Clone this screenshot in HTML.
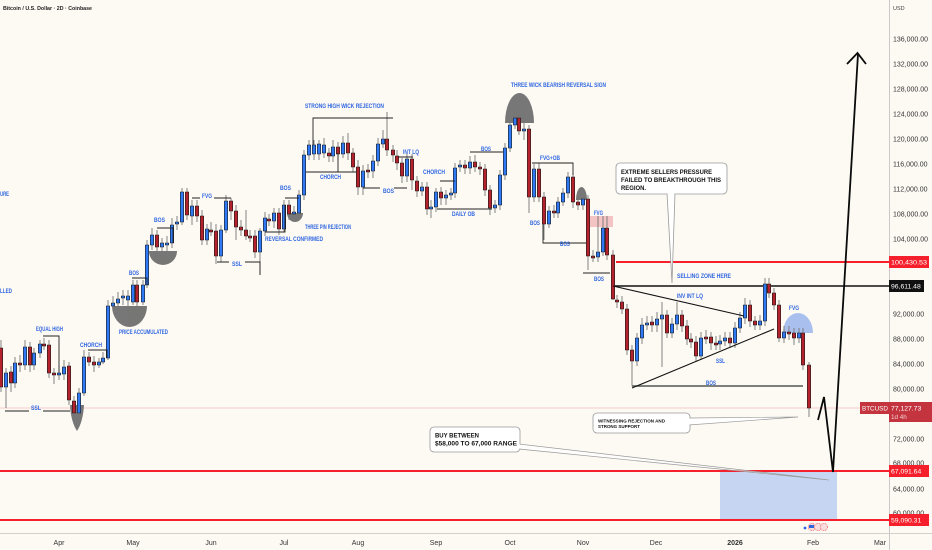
<!DOCTYPE html>
<html><head><meta charset="utf-8"><style>
html,body{margin:0;padding:0;background:#fdfaf4;}
svg{display:block;font-family:"Liberation Sans",sans-serif;}
.lb{fill:#2f66e0;font-weight:bold;font-size:6px;}
.ax{fill:#333;font-size:7px;}
.bx{fill:#111;font-weight:bold;}
</style></head><body>
<svg width="932" height="550" viewBox="0 0 932 550" xmlns="http://www.w3.org/2000/svg">
<rect x="0" y="0" width="932" height="550" fill="#fdfaf4"/>
<!-- buy zone -->
<rect x="720" y="471" width="117" height="49" fill="#c6d6f2"/>
<!-- price lines -->
<line x1="0" y1="408" x2="889" y2="408" stroke="#f4b9bd" stroke-width="0.8"/>
<line x1="0" y1="471" x2="889" y2="471" stroke="#f5202b" stroke-width="2"/>
<line x1="0" y1="520" x2="889" y2="520" stroke="#f5202b" stroke-width="2"/>
<line x1="616" y1="262" x2="889" y2="262" stroke="#f5202b" stroke-width="2"/>
<line x1="613" y1="286" x2="889" y2="286" stroke="#111" stroke-width="1.4"/>
<!-- FVG pink -->
<rect x="590" y="216" width="23" height="11" fill="#f4c3c3"/>
<!-- gray shapes -->
<g fill="#6b6b6b" opacity="0.92">
<path d="M70 405 L84 405 Q83 422 77 431 Q71 422 70 405Z"/>
<path d="M112 306 A17.5 21 0 0 0 147 306Z"/>
<path d="M149 251 A14 14 0 0 0 177 251Z"/>
<path d="M287 213 A8 9 0 0 0 303 213Z"/>
<path d="M505 123 A14.5 30 0 0 1 534 123Z"/>
<path d="M576 200 A5.5 13 0 0 1 587 200Z"/>
</g>
<path d="M783 333 A15 20 0 0 1 813 333Z" fill="#a9c0ef"/>
<!-- wicks -->
<path fill="none" stroke="#777" stroke-width="0.9" d="M1 340V392M6 368V408M11 366V392M15 357V388M20 355V372M25 340V370M30 342V372M34 348V370M40 340V358M44 338V350M49 340V378M54 368V384M59 365V380M64 360V380M69 362V405M74 396V420M79 388V418M84 350V396M89 352V366M94 356V372M99 358V368M103 352V364M108 300V360M113 296V310M118 292V308M123 290V305M128 290V307M133 280V305M137 280V306M143 280V305M147 240V288M152 228V250M157 230V262M162 238V262M167 236V262M172 218V248M177 216V230M182 188V225M187 188V220M192 200V225M197 200V222M202 210V245M207 224V245M211 222V236M216 224V264M221 225V262M226 195V233M231 198V220M236 205V240M241 220V236M246 210V240M250 230V242M255 230V258M260 228V275M265 212V236M269 214V226M274 208V228M279 208V235M284 200V232M289 200V220M294 206V220M299 190V218M304 150V200M309 140V160M314 140V160M319 140V160M324 138V158M329 148V162M333 140V162M338 142V160M343 136V158M348 133V160M353 148V172M358 160V195M363 165V195M368 164V178M373 155V178M378 138V166M383 130V148M387 112V156M393 145V162M397 150V170M402 158V183M407 153V182M412 154V190M417 176V197M422 182V196M427 182V215M431 200V218M436 188V212M441 187V205M446 190V205M451 188V200M455 163V198M460 160V172M465 160V174M470 156V174M475 155V172M480 162V175M485 164V196M490 185V215M495 200V213M500 170V210M505 143V180M510 120V152M515 114V129M519 112V135M524 120V140M529 125V213M534 164V202M539 163V202M544 192V240M549 206V228M554 205V218M558 197V218M563 188V206M568 172V198M573 173V208M578 197V210M583 193V210M588 195V270M593 250V262M598 216V262M603 216V256M607 216V260M613 250V300M617 295V308M622 296V314M627 304V355M632 345V386M637 333V366M642 318V344M647 316V330M652 316V332M657 312V332M662 302V367M667 310V338M672 318V338M677 302V330M682 310V332M687 320V345M691 333V348M696 336V362M701 332V360M706 330V344M711 332V350M716 336V350M720 335V350M725 332V346M730 332V348M735 322V348M740 312V333M745 298V324M750 300V327M755 316V330M760 315V330M765 278V326M769 278V298M774 288V310M779 300V342M784 326V343M789 326V340M794 328V345M799 328V343M803 328V370M809 362V417"/>
<!-- blue bodies -->
<path fill="#2f7af4" stroke="#1a1a1a" stroke-width="0.6" d="M4.3 373h3.4v14h-3.4zM13.3 363h3.4v20h-3.4zM23.3 347h3.4v18h-3.4zM32.3 353h3.4v12h-3.4zM38.3 344h3.4v9h-3.4zM57.3 373h3.4v2h-3.4zM62.3 367h3.4v7h-3.4zM77.3 393h3.4v20h-3.4zM82.3 357h3.4v36h-3.4zM97.3 362h3.4v3h-3.4zM101.3 358h3.4v4h-3.4zM106.3 306h3.4v52h-3.4zM111.3 303h3.4v3h-3.4zM116.3 299h3.4v4h-3.4zM121.3 296h3.4v2h-3.4zM126.3 296h3.4v4h-3.4zM131.3 285h3.4v17h-3.4zM141.3 285h3.4v17h-3.4zM145.3 245h3.4v40h-3.4zM150.3 235h3.4v10h-3.4zM160.3 243h3.4v4h-3.4zM165.3 243h3.4v2h-3.4zM170.3 225h3.4v18h-3.4zM175.3 222h3.4v2h-3.4zM180.3 192h3.4v30h-3.4zM190.3 206h3.4v10h-3.4zM205.3 229h3.4v11h-3.4zM219.3 230h3.4v26h-3.4zM224.3 201h3.4v29h-3.4zM258.3 231h3.4v21h-3.4zM263.3 218h3.4v13h-3.4zM272.3 213h3.4v8h-3.4zM282.3 205h3.4v24h-3.4zM292.3 212h3.4v2h-3.4zM297.3 195h3.4v18h-3.4zM302.3 155h3.4v40h-3.4zM307.3 145h3.4v10h-3.4zM312.3 145h3.4v9h-3.4zM317.3 144h3.4v10h-3.4zM322.3 145h3.4v8h-3.4zM331.3 147h3.4v9h-3.4zM341.3 143h3.4v11h-3.4zM361.3 171h3.4v16h-3.4zM371.3 161h3.4v10h-3.4zM376.3 144h3.4v17h-3.4zM381.3 139h3.4v5h-3.4zM405.3 159h3.4v17h-3.4zM420.3 187h3.4v4h-3.4zM429.3 207h3.4v2h-3.4zM434.3 192h3.4v15h-3.4zM444.3 195h3.4v3h-3.4zM449.3 193h3.4v2h-3.4zM453.3 168h3.4v25h-3.4zM458.3 165h3.4v2h-3.4zM468.3 162h3.4v6h-3.4zM493.3 205h3.4v3h-3.4zM498.3 175h3.4v30h-3.4zM503.3 148h3.4v27h-3.4zM508.3 125h3.4v23h-3.4zM513.3 118h3.4v7h-3.4zM522.3 129h3.4v2h-3.4zM532.3 169h3.4v28h-3.4zM547.3 211h3.4v13h-3.4zM556.3 202h3.4v11h-3.4zM561.3 193h3.4v9h-3.4zM566.3 177h3.4v16h-3.4zM581.3 199h3.4v6h-3.4zM596.3 252h3.4v5h-3.4zM601.3 228h3.4v24h-3.4zM635.3 338h3.4v23h-3.4zM640.3 325h3.4v13h-3.4zM645.3 323h3.4v2h-3.4zM655.3 319h3.4v6h-3.4zM660.3 315h3.4v4h-3.4zM670.3 324h3.4v9h-3.4zM675.3 315h3.4v9h-3.4zM699.3 338h3.4v18h-3.4zM718.3 341h3.4v3h-3.4zM723.3 338h3.4v3h-3.4zM733.3 328h3.4v15h-3.4zM738.3 318h3.4v10h-3.4zM743.3 305h3.4v13h-3.4zM758.3 321h3.4v4h-3.4zM763.3 284h3.4v37h-3.4zM782.3 332h3.4v6h-3.4zM797.3 333h3.4v5h-3.4z"/>
<!-- red bodies -->
<path fill="#b4232d" stroke="#1a1a1a" stroke-width="0.6" d="M-0.7 348h3.4v39h-3.4zM9.3 372h3.4v11h-3.4zM18.3 363h3.4v2h-3.4zM28.3 347h3.4v18h-3.4zM42.3 344h3.4v2h-3.4zM47.3 345h3.4v28h-3.4zM52.3 373h3.4v2h-3.4zM67.3 366h3.4v34h-3.4zM72.3 401h3.4v12h-3.4zM87.3 357h3.4v5h-3.4zM92.3 362h3.4v3h-3.4zM135.3 285h3.4v17h-3.4zM155.3 235h3.4v12h-3.4zM185.3 192h3.4v23h-3.4zM195.3 206h3.4v10h-3.4zM200.3 216h3.4v24h-3.4zM209.3 230h3.4v2h-3.4zM214.3 231h3.4v25h-3.4zM229.3 201h3.4v10h-3.4zM234.3 211h3.4v16h-3.4zM239.3 227h3.4v3h-3.4zM244.3 230h3.4v6h-3.4zM248.3 236h3.4v2h-3.4zM253.3 236h3.4v16h-3.4zM267.3 219h3.4v2h-3.4zM277.3 213h3.4v16h-3.4zM287.3 205h3.4v9h-3.4zM327.3 153h3.4v3h-3.4zM336.3 147h3.4v7h-3.4zM346.3 143h3.4v10h-3.4zM351.3 153h3.4v14h-3.4zM356.3 167h3.4v20h-3.4zM366.3 170h3.4v2h-3.4zM385.3 139h3.4v11h-3.4zM391.3 150h3.4v5h-3.4zM395.3 156h3.4v7h-3.4zM400.3 163h3.4v13h-3.4zM410.3 159h3.4v21h-3.4zM415.3 181h3.4v10h-3.4zM425.3 187h3.4v22h-3.4zM439.3 192h3.4v6h-3.4zM463.3 165h3.4v3h-3.4zM473.3 162h3.4v5h-3.4zM478.3 167h3.4v2h-3.4zM483.3 169h3.4v21h-3.4zM488.3 190h3.4v18h-3.4zM517.3 118h3.4v13h-3.4zM527.3 129h3.4v68h-3.4zM537.3 169h3.4v28h-3.4zM542.3 197h3.4v27h-3.4zM552.3 211h3.4v2h-3.4zM571.3 177h3.4v25h-3.4zM576.3 202h3.4v3h-3.4zM586.3 199h3.4v57h-3.4zM591.3 256h3.4v2h-3.4zM605.3 228h3.4v27h-3.4zM611.3 255h3.4v44h-3.4zM615.3 300h3.4v2h-3.4zM620.3 302h3.4v7h-3.4zM625.3 309h3.4v41h-3.4zM630.3 350h3.4v11h-3.4zM650.3 322h3.4v3h-3.4zM665.3 315h3.4v18h-3.4zM680.3 315h3.4v11h-3.4zM685.3 326h3.4v13h-3.4zM689.3 339h3.4v3h-3.4zM694.3 342h3.4v14h-3.4zM704.3 337h3.4v2h-3.4zM709.3 337h3.4v6h-3.4zM714.3 343h3.4v2h-3.4zM728.3 338h3.4v5h-3.4zM748.3 305h3.4v16h-3.4zM753.3 321h3.4v4h-3.4zM767.3 284h3.4v9h-3.4zM772.3 293h3.4v12h-3.4zM777.3 305h3.4v33h-3.4zM787.3 332h3.4v2h-3.4zM792.3 333h3.4v5h-3.4zM801.3 333h3.4v32h-3.4zM807.3 365h3.4v43h-3.4z"/>
<!-- annotation lines -->
<path fill="none" stroke="#222" stroke-width="0.9" d="M43 336H59V373M5 411H29M43 411H70M88 350H107V358M132 278H147V285M157 228H173V243M192 198H200M214 198H231M217 262H229M245 262H260V275M265 232H285V205M285 198H299M313 145V118H393M306 172H357M338 153V172M363 188H380M394 188H407M398 157H413M440 181H455M437 209H492M470 152H503M532 163H573V175M543 224V243H587M583 273H610"/>
<line x1="632" y1="386" x2="803" y2="386" stroke="#555" stroke-width="1.6"/>
<line x1="613" y1="286" x2="744" y2="316" stroke="#111" stroke-width="1.1"/>
<line x1="632" y1="388" x2="774" y2="329" stroke="#111" stroke-width="1.1"/>
<!-- labels -->
<text class="lb" x="0" y="196" textLength="9" lengthAdjust="spacingAndGlyphs">URE</text>
<text class="lb" x="0" y="293" textLength="12" lengthAdjust="spacingAndGlyphs">LLED</text>
<text class="lb" x="36" y="331" textLength="27" lengthAdjust="spacingAndGlyphs">EQUAL HIGH</text>
<text class="lb" x="80" y="347" textLength="22" lengthAdjust="spacingAndGlyphs">CHORCH</text>
<text class="lb" x="31" y="410" textLength="10" lengthAdjust="spacingAndGlyphs">SSL</text>
<text class="lb" x="119" y="334" textLength="49" lengthAdjust="spacingAndGlyphs">PRICE ACCUMULATED</text>
<text class="lb" x="129" y="275" textLength="10" lengthAdjust="spacingAndGlyphs">BOS</text>
<text class="lb" x="154" y="222" textLength="11" lengthAdjust="spacingAndGlyphs">BOS</text>
<text class="lb" x="202" y="198" textLength="10" lengthAdjust="spacingAndGlyphs">FVG</text>
<text class="lb" x="232" y="266" textLength="10" lengthAdjust="spacingAndGlyphs">SSL</text>
<text class="lb" x="265" y="241" textLength="58" lengthAdjust="spacingAndGlyphs">REVERSAL CONFIRMED</text>
<text class="lb" x="280" y="190" textLength="11" lengthAdjust="spacingAndGlyphs">BOS</text>
<text class="lb" x="305" y="229" textLength="46" lengthAdjust="spacingAndGlyphs">THREE PIN REJECTION</text>
<text class="lb" x="305" y="108" textLength="79" lengthAdjust="spacingAndGlyphs">STRONG HIGH WICK REJECTION</text>
<text class="lb" x="320" y="179" textLength="21" lengthAdjust="spacingAndGlyphs">CHORCH</text>
<text class="lb" x="383" y="193" textLength="11" lengthAdjust="spacingAndGlyphs">BOS</text>
<text class="lb" x="403" y="154" textLength="16" lengthAdjust="spacingAndGlyphs">INT LQ</text>
<text class="lb" x="423" y="174" textLength="22" lengthAdjust="spacingAndGlyphs">CHORCH</text>
<text class="lb" x="452" y="216" textLength="23" lengthAdjust="spacingAndGlyphs">DAILY OB</text>
<text class="lb" x="481" y="151" textLength="10" lengthAdjust="spacingAndGlyphs">BOS</text>
<text class="lb" x="511" y="87" textLength="95" lengthAdjust="spacingAndGlyphs">THREE WICK BEARISH REVERSAL SIGN</text>
<text class="lb" x="540" y="160" textLength="20" lengthAdjust="spacingAndGlyphs">FVG+OB</text>
<text class="lb" x="530" y="225" textLength="10" lengthAdjust="spacingAndGlyphs">BOS</text>
<text class="lb" x="560" y="246" textLength="10" lengthAdjust="spacingAndGlyphs">BOS</text>
<text class="lb" x="594" y="215" textLength="9" lengthAdjust="spacingAndGlyphs">FVG</text>
<text class="lb" x="594" y="281" textLength="10" lengthAdjust="spacingAndGlyphs">BOS</text>
<text class="lb" x="677" y="278" textLength="54" lengthAdjust="spacingAndGlyphs">SELLING ZONE HERE</text>
<text class="lb" x="677" y="298" textLength="26" lengthAdjust="spacingAndGlyphs">INV INT LQ</text>
<text class="lb" x="716" y="363" textLength="9" lengthAdjust="spacingAndGlyphs">SSL</text>
<text class="lb" x="706" y="385" textLength="10" lengthAdjust="spacingAndGlyphs">BOS</text>
<text class="lb" x="789" y="310" textLength="10" lengthAdjust="spacingAndGlyphs">FVG</text>
<!-- callout: extreme sellers -->
<polygon points="667,193 675,193 672,283" fill="#fff" stroke="#9a9a9a" stroke-width="0.8"/>
<rect x="616" y="163" width="111" height="31" rx="4" fill="#fff" stroke="#9a9a9a" stroke-width="0.8"/>
<line x1="667.6" y1="194" x2="674.4" y2="194" stroke="#fff" stroke-width="1.2"/>
<text class="bx" x="621" y="174" font-size="6.6" textLength="91" lengthAdjust="spacingAndGlyphs">EXTREME SELLERS PRESSURE</text>
<text class="bx" x="621" y="182" font-size="6.6" textLength="100" lengthAdjust="spacingAndGlyphs">FAILED TO BREAKTHROUGH THIS</text>
<text class="bx" x="621" y="190" font-size="6.6" textLength="25" lengthAdjust="spacingAndGlyphs">REGION.</text>
<!-- callout: witnessing -->
<polygon points="689,418 689,425 798,417" fill="#fff" stroke="#9a9a9a" stroke-width="0.7"/>
<rect x="593" y="413" width="97" height="20" rx="4" fill="#fff" stroke="#9a9a9a" stroke-width="0.8"/>
<line x1="690" y1="418.6" x2="690" y2="424.4" stroke="#fff" stroke-width="1.2"/>
<text class="bx" x="598" y="422.5" font-size="4.8" textLength="67" lengthAdjust="spacingAndGlyphs">WITNESSING REJECTION AND</text>
<text class="bx" x="598" y="428" font-size="4.8" textLength="42" lengthAdjust="spacingAndGlyphs">STRONG SUPPORT</text>
<!-- callout: buy -->
<polygon points="519,444 519,449 829,480" fill="#fff" fill-opacity="0.6" stroke="#9a9a9a" stroke-width="0.7"/>
<rect x="430" y="427" width="90" height="25" rx="4" fill="#fff" stroke="#9a9a9a" stroke-width="0.8"/>
<line x1="520" y1="444.6" x2="520" y2="448.4" stroke="#fff" stroke-width="1.2"/>
<text class="bx" x="435" y="437.5" font-size="6.6" textLength="44" lengthAdjust="spacingAndGlyphs">BUY BETWEEN</text>
<text class="bx" x="435" y="445.5" font-size="6.6" textLength="82" lengthAdjust="spacingAndGlyphs">$58,000 TO 67,000 RANGE</text>
<!-- projection arrow -->
<path d="M818 420 L824 397 L833 472 L858 54" fill="none" stroke="#0a0a0a" stroke-width="1.8" stroke-linejoin="miter"/>
<path d="M847 64 L857.5 53 L866 64" fill="none" stroke="#0a0a0a" stroke-width="1.8"/>
<!-- news icons -->
<circle cx="805" cy="528" r="1.4" fill="#2f66e0"/>
<circle cx="812" cy="527" r="3.6" fill="#f8dede" stroke="#e33" stroke-width="0.6" stroke-dasharray="1 0.8"/>
<circle cx="818" cy="527" r="3.6" fill="#f8dede" stroke="#e33" stroke-width="0.6" stroke-dasharray="1 0.8"/>
<circle cx="824" cy="527" r="3.6" fill="#f8dede" stroke="#e33" stroke-width="0.6" stroke-dasharray="1 0.8"/>
<rect x="809" y="525" width="5" height="3" fill="#2f66e0"/>
<!-- header -->
<text x="3" y="10" font-size="5.8" font-weight="bold" fill="#222" textLength="89" lengthAdjust="spacingAndGlyphs">Bitcoin / U.S. Dollar · 2D · Coinbase</text>
<!-- axes -->
<rect x="889.5" y="0" width="42.5" height="550" fill="#fdfaf4"/>
<rect x="0" y="533.5" width="932" height="16.5" fill="#fdfaf4"/>
<line x1="889.5" y1="0" x2="889.5" y2="550" stroke="#c9c9c9" stroke-width="1"/>
<line x1="0" y1="533.5" x2="932" y2="533.5" stroke="#d2d0cc" stroke-width="1"/>
<text x="893" y="10" font-size="5.5" fill="#444">USD</text>
<g class="ax">
<text x="893" y="41.5">136,000.00</text>
<text x="893" y="66.5">132,000.00</text>
<text x="893" y="91.5">128,000.00</text>
<text x="893" y="116.5">124,000.00</text>
<text x="893" y="141.5">120,000.00</text>
<text x="893" y="166.5">116,000.00</text>
<text x="893" y="191.5">112,000.00</text>
<text x="893" y="216.5">108,000.00</text>
<text x="893" y="241.5">104,000.00</text>
<text x="893" y="316.5">92,000.00</text>
<text x="893" y="341.5">88,000.00</text>
<text x="893" y="366.5">84,000.00</text>
<text x="893" y="391.5">80,000.00</text>
<text x="893" y="441.5">72,000.00</text>
<text x="893" y="465.5">68,000.00</text>
<text x="893" y="491.5">64,000.00</text>
<text x="893" y="515.5">60,000.00</text>
</g>
<!-- price tags -->
<rect x="889" y="256" width="40" height="12" fill="#f5202b"/>
<text x="891" y="264.5" font-size="6.8" fill="#fff" textLength="36" lengthAdjust="spacingAndGlyphs">100,430.53</text>
<rect x="889" y="280" width="35" height="12" fill="#111"/>
<text x="891" y="288.5" font-size="6.8" fill="#fff">96,611.48</text>
<rect x="860" y="402" width="29" height="12" fill="#c3343f"/>
<text x="862" y="410.5" font-size="6.3" fill="#fff">BTCUSD</text>
<rect x="889" y="402" width="43" height="20" fill="#c3343f"/>
<text x="891" y="410.5" font-size="6.8" fill="#fff">77,127.73</text>
<text x="891" y="419" font-size="6.3" fill="#f6d0d3">1d 4h</text>
<rect x="889" y="465" width="40" height="12" fill="#f5202b"/>
<text x="891" y="473.5" font-size="6.8" fill="#fff">67,091.64</text>
<rect x="889" y="514" width="40" height="12" fill="#f5202b"/>
<text x="891" y="522.5" font-size="6.8" fill="#fff">59,090.31</text>
<!-- time axis -->
<g class="ax" text-anchor="middle">
<text x="59" y="545">Apr</text>
<text x="133" y="545">May</text>
<text x="211" y="545">Jun</text>
<text x="284" y="545">Jul</text>
<text x="358" y="545">Aug</text>
<text x="436" y="545">Sep</text>
<text x="510" y="545">Oct</text>
<text x="583" y="545">Nov</text>
<text x="656" y="545">Dec</text>
<text x="735" y="545" font-weight="bold">2026</text>
<text x="813" y="545">Feb</text>
<text x="880" y="545">Mar</text>
</g>
</svg>
</body></html>
